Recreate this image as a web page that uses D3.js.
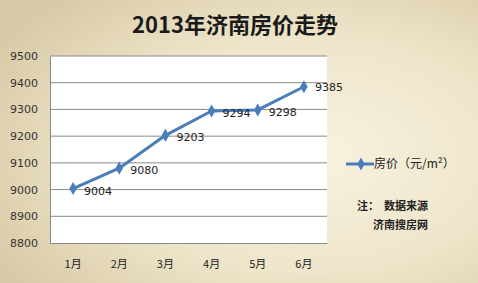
<!DOCTYPE html>
<html>
<head>
<meta charset="utf-8">
<script src="https://cdn.jsdelivr.net/npm/d3@7"></script>
<style>
  body { margin: 0; }
  svg { display: block; }
</style>
</head>
<body>
<div id="chart"></div>
<script>
const months = ["1月", "2月", "3月", "4月", "5月", "6月"];
const prices = [9004, 9080, 9203, 9294, 9298, 9385];
const yTicks = [8800, 8900, 9000, 9100, 9200, 9300, 9400, 9500];
const title = "2013年济南房价走势";
const seriesName = "房价（元/m²）";
const noteLines = ["注：  数据来源", "济南搜房网"];

const width = 478, height = 283;
const margin = { top: 56, right: 151, bottom: 40, left: 50 };

const svg = d3.select("#chart").append("svg")
  .attr("width", width)
  .attr("height", height);

// beige backdrop
const defs = svg.append("defs");
const grad = defs.append("radialGradient")
  .attr("id", "bg")
  .attr("cx", "65%").attr("cy", "55%").attr("r", "75%");
grad.append("stop").attr("offset", "0%").attr("stop-color", "#f8f2e0");
grad.append("stop").attr("offset", "55%").attr("stop-color", "#eee5ca");
grad.append("stop").attr("offset", "100%").attr("stop-color", "#d9cba8");
svg.append("rect").attr("width", width).attr("height", height).attr("fill", "url(#bg)");

const x = d3.scaleBand()
  .domain(months)
  .range([margin.left, width - margin.right]);

const y = d3.scaleLinear()
  .domain([8800, 9500])
  .range([height - margin.bottom, margin.top]);

// plot area
svg.append("rect")
  .attr("x", margin.left)
  .attr("y", margin.top)
  .attr("width", width - margin.left - margin.right)
  .attr("height", height - margin.top - margin.bottom)
  .attr("fill", "#fff");

// gridlines
svg.append("g")
  .selectAll("line")
  .data(yTicks.slice(1))
  .join("line")
  .attr("x1", margin.left)
  .attr("x2", width - margin.right)
  .attr("y1", d => y(d))
  .attr("y2", d => y(d))
  .attr("stroke", "#8a8a8a")
  .attr("stroke-width", 1);

// y axis
svg.append("g")
  .attr("transform", `translate(${margin.left},0)`)
  .call(d3.axisLeft(y).tickValues(yTicks).tickSize(0).tickPadding(12).tickFormat(d3.format("d")))
  .call(g => g.select(".domain").attr("stroke", "#8a8a8a"))
  .call(g => g.selectAll("text")
    .attr("fill", "#333")
    .style("font-family", "'DejaVu Sans', sans-serif")
    .style("font-size", "11px"));

// x axis
svg.append("g")
  .attr("transform", `translate(0,${height - margin.bottom})`)
  .call(d3.axisBottom(x).tickSize(0).tickPadding(17))
  .call(g => g.select(".domain").attr("stroke", "#8a8a8a"))
  .call(g => g.selectAll("text")
    .attr("fill", "#222")
    .style("font-family", "'Noto Sans CJK SC', sans-serif")
    .style("font-size", "11px"));

const cx = (d, i) => x(months[i]) + x.bandwidth() / 2;

// line
svg.append("path")
  .datum(prices)
  .attr("fill", "none")
  .attr("stroke", "#4a7ebb")
  .attr("stroke-width", 3)
  .attr("stroke-linejoin", "round")
  .attr("d", d3.line().x(cx).y(d => y(d)));

// markers
const diamond = d3.symbol().type(d3.symbolDiamond).size(50);
svg.append("g")
  .selectAll("path")
  .data(prices)
  .join("path")
  .attr("transform", (d, i) => `translate(${cx(d, i)},${y(d)})`)
  .attr("d", diamond)
  .attr("fill", "#4a7ebb");

// value labels
svg.append("g")
  .selectAll("text")
  .data(prices)
  .join("text")
  .attr("x", (d, i) => cx(d, i) + 11)
  .attr("y", (d, i) => y(d) + (i === prices.length - 1 ? 4 : 6))
  .attr("fill", "#222")
  .style("font-family", "'DejaVu Sans', sans-serif")
  .style("font-size", "11px")
  .text(d => d);

// title
svg.append("text")
  .attr("x", 235)
  .attr("y", 33)
  .attr("text-anchor", "middle")
  .attr("fill", "#1a1a1a")
  .style("font-family", "'Noto Sans CJK SC', sans-serif")
  .style("font-weight", "bold")
  .style("font-size", "22px")
  .text(title);

// legend
const lg = svg.append("g").attr("transform", "translate(346,164)");
lg.append("line").attr("x1", 0).attr("x2", 28).attr("stroke", "#4a7ebb").attr("stroke-width", 3);
lg.append("path").attr("transform", "translate(15,0)").attr("d", diamond).attr("fill", "#4a7ebb");
lg.append("text")
  .attr("x", 28).attr("y", 4)
  .attr("fill", "#222")
  .style("font-family", "'Noto Sans CJK SC', sans-serif")
  .style("font-size", "12px")
  .text(seriesName);

// source note
svg.append("g")
  .selectAll("text")
  .data(noteLines)
  .join("text")
  .attr("x", (d, i) => i === 0 ? 357 : 373)
  .attr("y", (d, i) => 210 + i * 19)
  .attr("fill", "#222")
  .style("font-family", "'Noto Sans CJK SC', sans-serif")
  .style("font-weight", "bold")
  .style("font-size", "11px")
  .style("white-space", "pre")
  .text(d => d);
</script>
</body>
</html>
